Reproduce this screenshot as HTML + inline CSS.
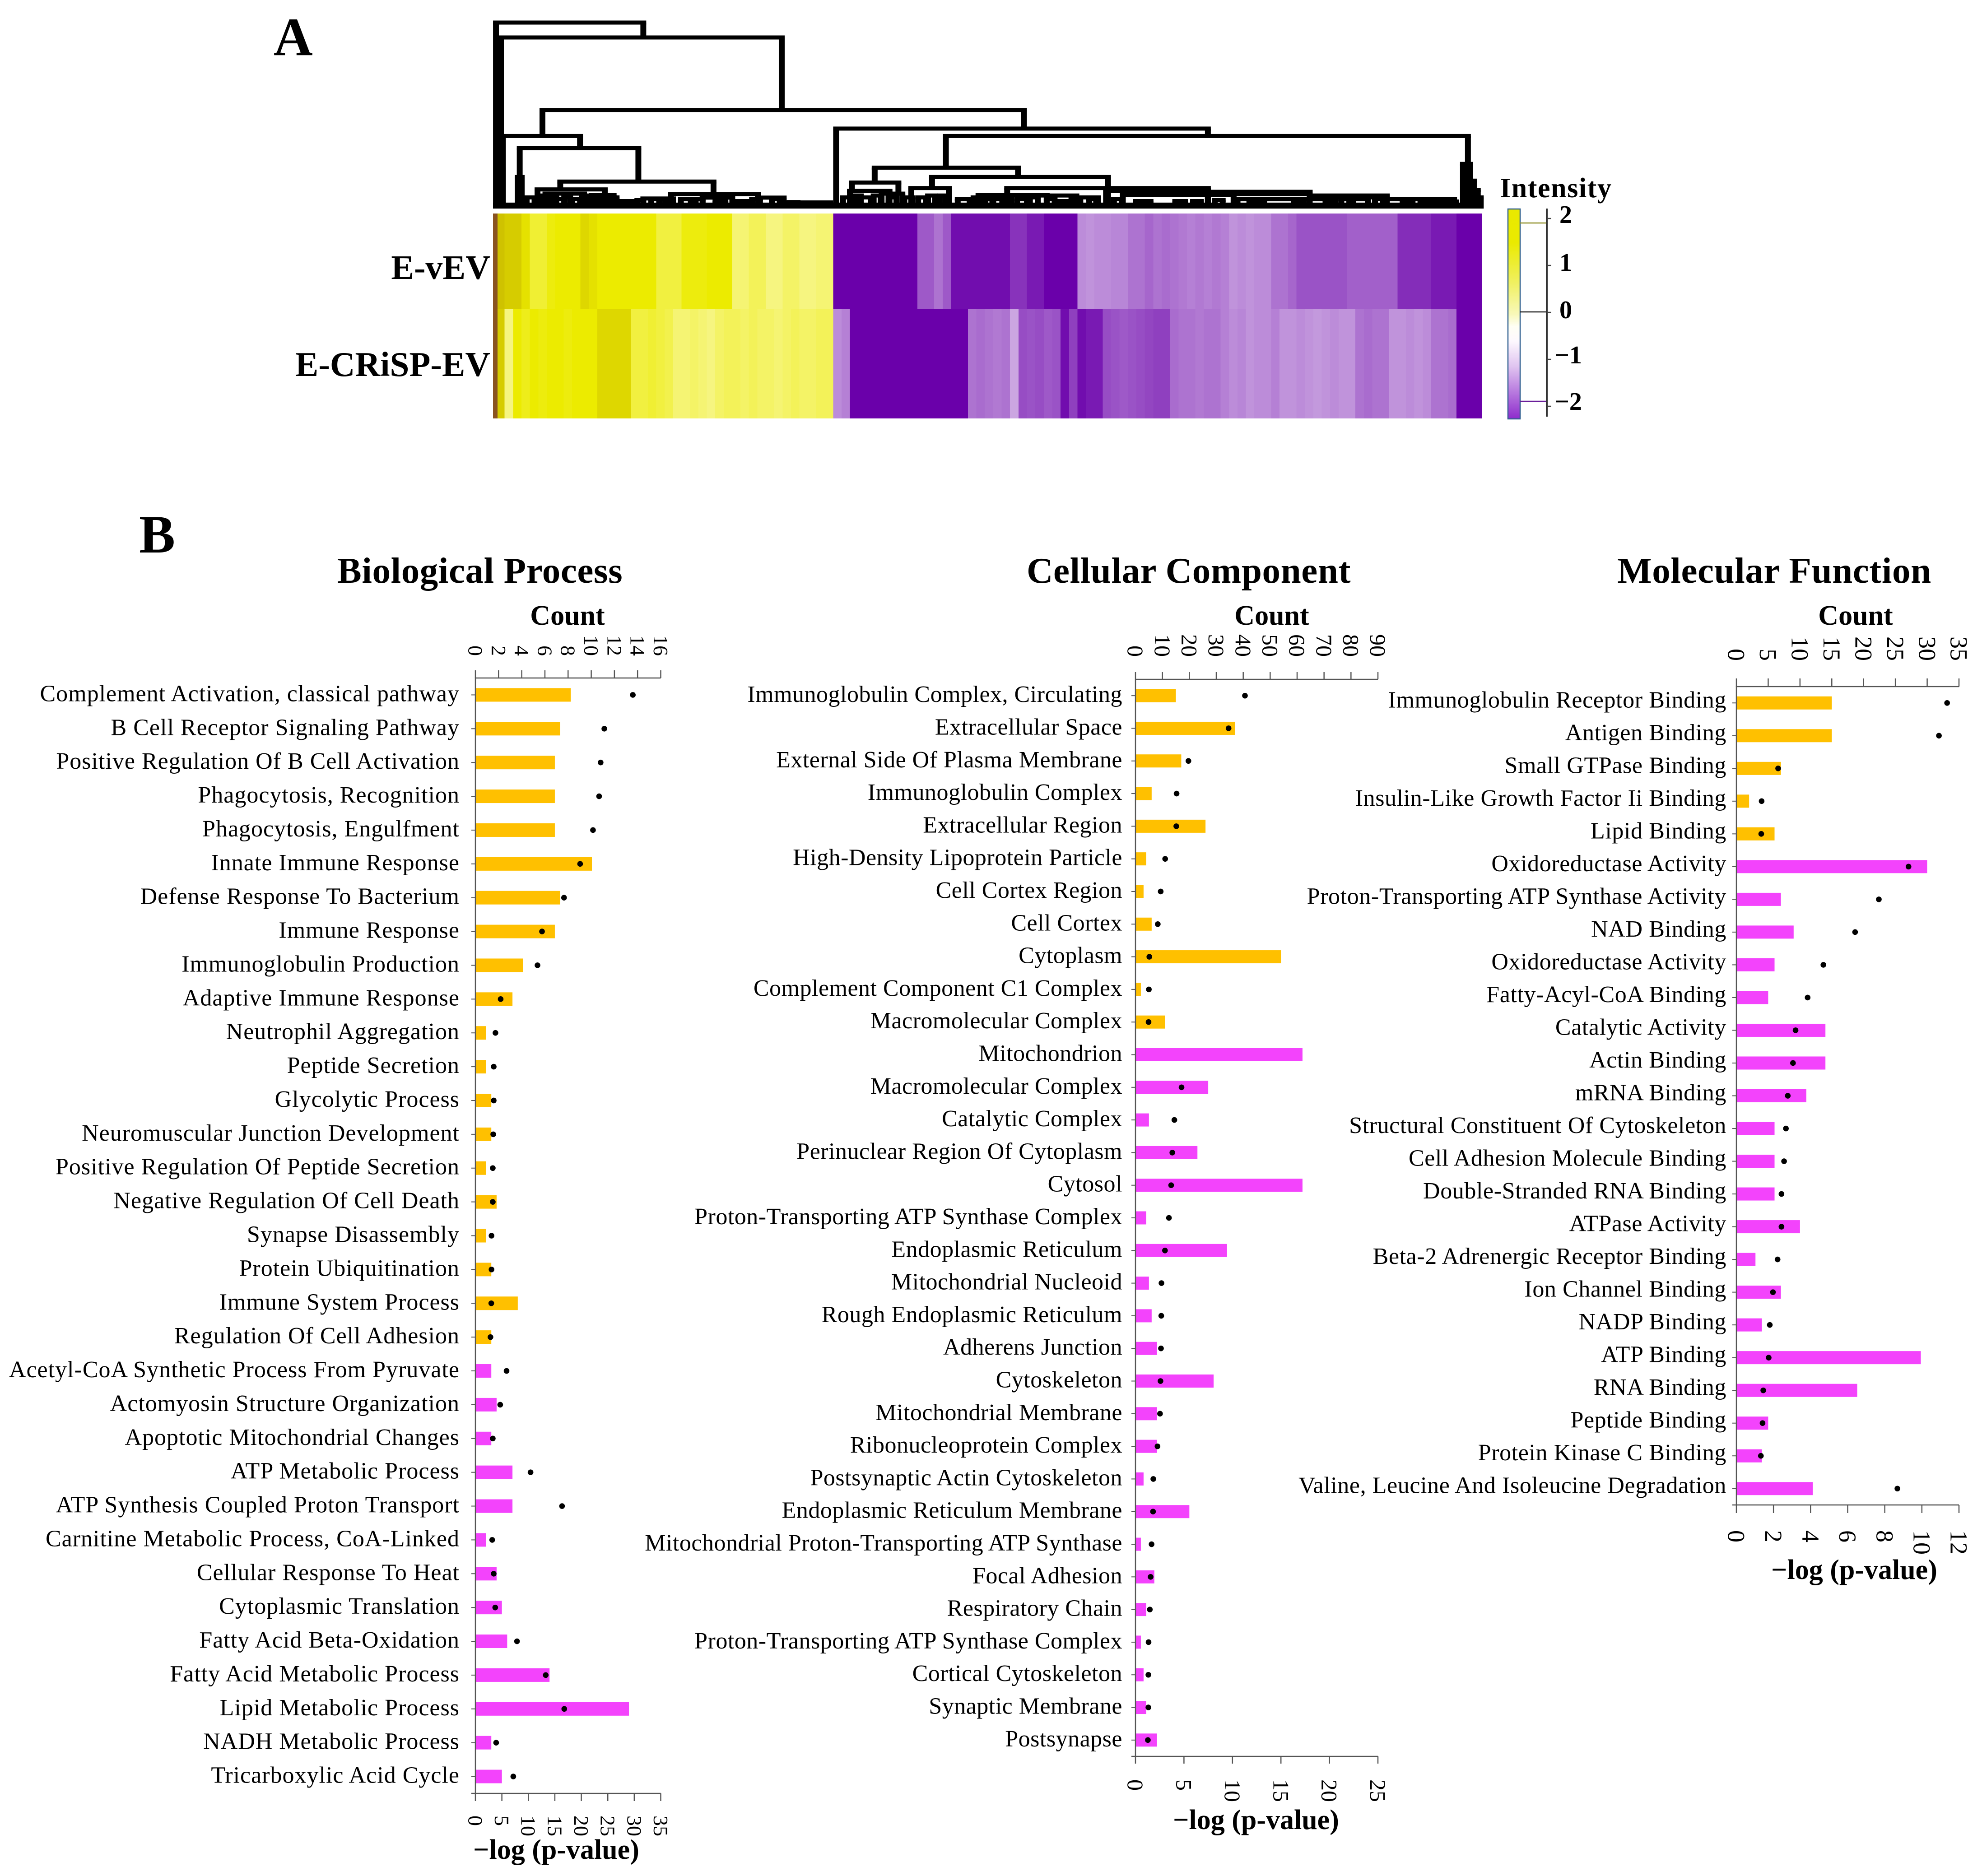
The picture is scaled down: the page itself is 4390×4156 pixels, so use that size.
<!DOCTYPE html>
<html lang="en">
<head>
<meta charset="utf-8">
<title>Proteomic heatmap and gene ontology enrichment</title>
<style>
html,body{margin:0;padding:0;background:#fff;}
svg{display:block;font-family:"Liberation Serif",serif;}
text{fill:#000;}
</style>
</head>
<body>
<svg id="figure" xmlns="http://www.w3.org/2000/svg" width="4390" height="4156" viewBox="0 0 4390 4156">
<defs>
<linearGradient id="cbar" x1="0" y1="0" x2="0" y2="1">
<stop offset="0" stop-color="#e9e900"/><stop offset="0.16" stop-color="#eaea00"/><stop offset="0.35" stop-color="#f0f060"/><stop offset="0.5" stop-color="#f8f8b8"/><stop offset="0.56" stop-color="#fffff4"/><stop offset="0.63" stop-color="#fdf8fe"/><stop offset="0.75" stop-color="#e0c4f0"/><stop offset="1" stop-color="#8e2ccc"/>
</linearGradient>
</defs>
<rect width="4390" height="4156" fill="#fff"/>
<text x="606" y="122" font-size="120" font-weight="700">A</text>
<text x="308" y="1224" font-size="120" font-weight="700">B</text>
<g id="dendrogram"></g>
<g id="heatmap" shape-rendering="crispEdges"></g>
<text x="1086" y="618" font-size="76" font-weight="700" text-anchor="end">E-vEV</text>
<text x="1086" y="833" font-size="77" font-weight="700" text-anchor="end">E-CRiSP-EV</text>
<g>
<text x="3322" y="437" font-size="62" font-weight="700" letter-spacing="1.6">Intensity</text>
<rect x="3340" y="463" width="27" height="465" fill="url(#cbar)" stroke="#2f5f8f" stroke-width="2.5"/>
<line x1="3426" y1="462" x2="3426" y2="923" stroke="#333" stroke-width="4"/>
<line x1="3367" y1="494" x2="3425" y2="494" stroke="#8f8f28" stroke-width="2.5"/>
<line x1="3367" y1="691" x2="3425" y2="691" stroke="#222" stroke-width="2.5"/>
<line x1="3367" y1="889" x2="3425" y2="889" stroke="#6a1f9a" stroke-width="2.5"/>
<line x1="3426" y1="484" x2="3436" y2="484" stroke="#444" stroke-width="2.5"/>
<line x1="3426" y1="588" x2="3436" y2="588" stroke="#444" stroke-width="2.5"/>
<line x1="3426" y1="692" x2="3436" y2="692" stroke="#444" stroke-width="2.5"/>
<line x1="3426" y1="796" x2="3436" y2="796" stroke="#444" stroke-width="2.5"/>
<line x1="3426" y1="900" x2="3436" y2="900" stroke="#444" stroke-width="2.5"/>
<text x="3454" y="494" font-size="56" font-weight="700">2</text>
<text x="3454" y="600" font-size="56" font-weight="700">1</text>
<text x="3454" y="705" font-size="56" font-weight="700">0</text>
<text x="3444" y="805" font-size="56" font-weight="700">−1</text>
<text x="3444" y="908" font-size="56" font-weight="700">−2</text>
</g>
<text x="1063" y="1291" font-size="81" font-weight="700" text-anchor="middle" letter-spacing="0.6">Biological Process</text>
<text x="2633" y="1291" font-size="81" font-weight="700" text-anchor="middle" letter-spacing="0.6">Cellular Component</text>
<text x="3930" y="1291" font-size="81" font-weight="700" text-anchor="middle" letter-spacing="0.6">Molecular Function</text>
<text x="1257" y="1384" font-size="62" font-weight="700" text-anchor="middle">Count</text>
<text x="2817" y="1384" font-size="62" font-weight="700" text-anchor="middle">Count</text>
<text x="4110" y="1384" font-size="62" font-weight="700" text-anchor="middle">Count</text>
<text x="1232" y="4118" font-size="62" font-weight="700" text-anchor="middle">−log (p-value)</text>
<text x="2782" y="4052" font-size="62" font-weight="700" text-anchor="middle">−log (p-value)</text>
<text x="4107" y="3498" font-size="62" font-weight="700" text-anchor="middle">−log (p-value)</text>
<g id="panels"></g>
</svg>
<script>
/* ---------- Heatmap data (z-scored intensity per protein cluster column) ---------- */
var evevValues = [2.4,2.3,2.3,2.1,1.6,1.6,1.9,2.0,2.0,2.0,2.2,2.1,
2.0,2.0,2.0,2.0,2.0,2.0,2.0,1.5,1.5,1.5,1.9,1.9,1.9,2.0,2.0,2.0,
1.1,1.1,1.3,1.3,1.0,1.0,1.2,1.2,1.0,1.0,1.1,1.1,
-2,-2,-2,-2,-2,-2,-2,-2,-2,-2,-1.3,-1.3,-1.1,-1.3,
-1.9,-1.9,-1.9,-1.9,-1.9,-1.9,-1.9,-1.6,-1.6,-1.8,-1.8,-2,-2,-2,-2,
-0.9,-0.85,-0.9,-0.9,-0.95,-0.95,-1.1,-1.1,-1.2,-1.1,-1.15,-1.1,
-1.05,-1.0,-1.05,-1.0,-1.05,-1.0,-0.85,-0.9,-0.85,-0.9,-0.9,-1.1,-1.1,-1.2,
-1.35,-1.35,-1.35,-1.35,-1.35,-1.35,-1.25,-1.25,-1.25,-1.25,-1.25,-1.25,
-1.65,-1.65,-1.65,-1.65,-1.8,-1.8,-1.8,-2,-2,-2];
var ecrispValues = [2.3,1.0,2.0,1.8,2.0,1.9,2.0,2.0,1.9,2.0,2.0,2.0,2.2,2.2,2.2,2.2,
1.5,1.5,1.6,1.5,1.4,1.1,1.1,1.2,1.1,1.0,1.2,1.3,1.3,
1.2,1.3,1.2,1.2,1.1,1.2,1.3,1.2,1.2,1.3,1.3,-0.9,-1.0,
-2,-2,-2,-2,-2,-2,-2,-2,-2,-2,-2,-2,-2,-2,
-1.1,-1.15,-1.1,-1.05,-1.1,-0.7,-1.4,-1.35,-1.4,-1.3,-1.35,
-1.9,-1.5,-1.9,-1.8,-1.8,-1.4,-1.35,-1.3,-1.35,-1.4,-1.45,-1.5,-1.5,
-1.15,-1.1,-1.1,-1.05,-1.1,-1.1,-1.0,-0.9,-0.95,-0.85,-0.9,-0.9,-1,
-0.85,-0.85,-0.9,-0.85,-0.8,-0.85,-0.9,-0.85,-0.85,-1.1,-1.15,-1.1,-1.1,
-0.85,-0.85,-0.9,-0.85,-0.9,-1.1,-1.1,-1.15,-2,-2,-2];

/* ---------- Dendrogram merges: left leaf, right leaf, height, left foot, right foot ---------- */
var dendroMerges = [
[3,152,100,0,92],[8,292,92,0,53],[50,537,53,39,43],[10,88,39,0,32.5],[27,147,32.5,0,14.5],
[68,223,14.5,10.5,8],[347,723,43,0,39],[458,986,39,22,0],[386,531,22,14,17],[444,622,17,11,11],
[363,410,14,9,9],[45,113,10.3,3,3],[53,92,8,3,3],[100,122,7.3,3,3],[152,182,5.4,3,3],
[180,268,7.8,3,3],[212,242,5.9,3,3],[268,294,5.9,3,3],[294,341,3.3,2,2],[361,401,9.6,3,3],
[423,461,11,3,3],[393,414,8,3,3],[491,560,7.4,3,3],[551,590,7,3,3],[520,620,11,3,3],
[594,612,6,3,3],[622,723,11,3,9],[622,723,9.6,3,3],[637,749,7.4,3,3],[723,826,9,3,7],[723,826,7.8,3,3],
[753,852,5,3,3],[826,904,7,3,5],[826,904,6,3,3],[904,972,5,3,3],[6,10,21,0,0],[25,29,17,0,0],[981,988,24,0,0],
[988,992,15,0,0],[992,996,10,0,0],[996,999,6,0,0],[60,72,5,2,2],[80,88,5,2,2],[108,114,5,2,2],
[130,142,4,2,2],[190,200,5,2,2],[225,235,4,2,2],[250,260,4,2,2],[372,382,6,2,2],
[430,438,6,2,2],[470,482,5,2,2],[505,515,5,2,2],[530,540,5,2,2],[572,582,4,2,2],
[650,665,4,2,2],[690,700,4,2,2],[765,780,4,2,2],[810,820,4,2,2],[870,885,5,2,2],
[920,930,4,2,2],[950,962,4,2,2],[34,42,6,2,2],[47,52,7,2,2],[57,64,7,2,2],[72,78,6,2,2],[90,97,7,2,2],
[103,109,7,2,2],[118,125,6,2,2],[146,152,4.5,2,2],[160,168,5,2,2],[174,180,5,2,2],[205,212,5,2,2],
[243,250,4,2,2],[262,270,5,2,2],[282,290,5,2,2],[300,308,3.5,2,2],[354,362,6,2,2],[366,372,7,2,2],
[385,392,7,2,2],[400,408,6,2,2],[416,424,6,2,2],[440,447,7,2,2],[452,458,7,2,2],[486,494,6,2,2],
[498,506,5,2,2],[516,524,6,2,2],[543,551,6,2,2],[560,568,5,2,2],[585,592,5,2,2],[603,610,5,2,2],
[628,636,5,2,2],[708,716,4,2,2],[730,738,4.5,2,2],[842,850,4,2,2],[858,866,5,2,2],[892,900,5,2,2],
[938,946,3.8,2,2],[966,974,3.8,2,2]];

/* ---------- Biological Process ---------- */
var bpCategories = ["Complement Activation, classical pathway","B Cell Receptor Signaling Pathway","Positive Regulation Of B Cell Activation","Phagocytosis, Recognition","Phagocytosis, Engulfment","Innate Immune Response","Defense Response To Bacterium","Immune Response","Immunoglobulin Production","Adaptive Immune Response","Neutrophil Aggregation","Peptide Secretion","Glycolytic Process","Neuromuscular Junction Development","Positive Regulation Of Peptide Secretion","Negative Regulation Of Cell Death","Synapse Disassembly","Protein Ubiquitination","Immune System Process","Regulation Of Cell Adhesion","Acetyl-CoA Synthetic Process From Pyruvate","Actomyosin Structure Organization","Apoptotic Mitochondrial Changes","ATP Metabolic Process","ATP Synthesis Coupled Proton Transport","Carnitine Metabolic Process, CoA-Linked","Cellular Response To Heat","Cytoplasmic Translation","Fatty Acid Beta-Oxidation","Fatty Acid Metabolic Process","Lipid Metabolic Process","NADH Metabolic Process","Tricarboxylic Acid Cycle"];
var bpBars = [18,16,15,15,15,22,16,15,9,7,2,2,3,3,2,4,2,3,8,3,3,4,3,7,7,2,4,5,6,14,29,3,5];
var bpDots = [13.59,11.13,10.81,10.68,10.15,9.04,7.65,5.75,5.36,2.18,1.73,1.58,1.58,1.54,1.50,1.50,1.39,1.39,1.37,1.30,2.69,2.14,1.50,4.76,7.48,1.45,1.58,1.71,3.59,6.07,7.67,1.79,3.27];
var bpTopTicks = [0,2,4,6,8,10,12,14,16];
var bpBottomTicks = [0,5,10,15,20,25,30,35];

/* ---------- Cellular Component ---------- */
var ccCategories = ["Immunoglobulin Complex, Circulating","Extracellular Space","External Side Of Plasma Membrane","Immunoglobulin Complex","Extracellular Region","High-Density Lipoprotein Particle","Cell Cortex Region","Cell Cortex","Cytoplasm","Complement Component C1 Complex","Macromolecular Complex","Mitochondrion","Macromolecular Complex","Catalytic Complex","Perinuclear Region Of Cytoplasm","Cytosol","Proton-Transporting ATP Synthase Complex","Endoplasmic Reticulum","Mitochondrial Nucleoid","Rough Endoplasmic Reticulum","Adherens Junction","Cytoskeleton","Mitochondrial Membrane","Ribonucleoprotein Complex","Postsynaptic Actin Cytoskeleton","Endoplasmic Reticulum Membrane","Mitochondrial Proton-Transporting ATP Synthase","Focal Adhesion","Respiratory Chain","Proton-Transporting ATP Synthase Complex","Cortical Cytoskeleton","Synaptic Membrane","Postsynapse"];
var ccBars = [15,37,17,6,26,4,3,6,54,2,11,62,27,5,23,62,4,34,5,6,8,29,8,8,3,20,2,7,4,2,3,4,8];
var ccDots = [11.29,9.6,5.46,4.24,4.21,3.06,2.60,2.30,1.43,1.38,1.35,null,4.75,4.01,3.80,3.68,3.45,3.04,2.68,2.66,2.63,2.58,2.53,2.27,1.84,1.81,1.66,1.56,1.48,1.35,1.33,1.33,1.28];
var ccTopTicks = [0,10,20,30,40,50,60,70,80,90];
var ccBottomTicks = [0,5,10,15,20,25];

/* ---------- Molecular Function ---------- */
var mfCategories = ["Immunoglobulin Receptor Binding","Antigen Binding","Small GTPase Binding","Insulin-Like Growth Factor Ii Binding","Lipid Binding","Oxidoreductase Activity","Proton-Transporting ATP Synthase Activity","NAD Binding","Oxidoreductase Activity","Fatty-Acyl-CoA Binding","Catalytic Activity","Actin Binding","mRNA Binding","Structural Constituent Of Cytoskeleton","Cell Adhesion Molecule Binding","Double-Stranded RNA Binding","ATPase Activity","Beta-2 Adrenergic Receptor Binding","Ion Channel Binding","NADP Binding","ATP Binding","RNA Binding","Peptide Binding","Protein Kinase C Binding","Valine, Leucine And Isoleucine Degradation"];
var mfBars = [15,15,7,2,6,30,7,9,6,5,14,14,11,6,6,6,10,3,7,4,29,19,5,4,12];
var mfDots = [11.36,10.92,2.25,1.36,1.34,9.28,7.68,6.40,4.69,3.84,3.19,3.05,2.77,2.67,2.57,2.43,2.43,2.22,1.97,1.80,1.74,1.45,1.41,1.32,8.68];
var mfTopTicks = [0,5,10,15,20,25,30,35];
var mfBottomTicks = [0,2,4,6,8,10,12];

var NS = "http://www.w3.org/2000/svg";
function make(tag, parent) {
  var node = document.createElementNS(NS, tag);
  parent.appendChild(node);
  return node;
}
function hexMix(a, b, t) {
  var out = [];
  for (var c = 0; c < 3; c++) {
    out.push(Math.round(a[c] + (b[c] - a[c]) * t));
  }
  return "rgb(" + out.join(",") + ")";
}
function heatColor(v) {
  var purple = [106,0,170], white = [255,255,255], yellow = [236,235,0], olive = [200,184,0], brown = [138,80,32];
  if (v < 0) return hexMix(white, purple, Math.min(1, -v / 2));
  if (v <= 2) return hexMix(white, yellow, v / 2);
  if (v <= 2.5) return hexMix(yellow, olive, (v - 2) / 0.5);
  return hexMix(olive, brown, Math.min(1, (v - 2.5) / 0.5));
}

/* Heatmap */
(function () {
  var host = document.getElementById("heatmap");
  var left = 1099, right = 3282;
  var rows = [
    { name: "heatmap-row-e-vev", values: evevValues, top: 473, bottom: 685 },
    { name: "heatmap-row-e-crisp-ev", values: ecrispValues, top: 685, bottom: 927 }
  ];
  rows.forEach(function (row) {
    var g = make("g", host);
    
    
    var w = (right - left) / row.values.length;
    row.values.forEach(function (v, i) {
      var r = make("rect", g);
      
      
      r.setAttribute("x", left + i * w);
      r.setAttribute("y", row.top);
      r.setAttribute("width", w + 0.6);
      r.setAttribute("height", row.bottom - row.top);
      r.setAttribute("fill", heatColor(v));
    });
  });
  var edge = make("rect", host);
  
  
  edge.setAttribute("x", 1092);
  edge.setAttribute("y", 473);
  edge.setAttribute("width", 10);
  edge.setAttribute("height", 454);
  edge.setAttribute("fill", "#8a5420");
})();

/* Dendrogram */
(function () {
  var host = document.getElementById("dendrogram");
  function lx(l) { return 1092 + l * 2.19; }
  function hy(h) { return 462 - h * 4.12; }
  var base = make("rect", host);
  
  
  base.setAttribute("x", lx(0));
  base.setAttribute("y", hy(3.2));
  base.setAttribute("width", lx(1000) - lx(0));
  base.setAttribute("height", hy(0) - hy(3.2));
  base.setAttribute("fill", "#000");
  dendroMerges.forEach(function (m) {
    var legs = make("path", host);
    
    
    legs.setAttribute("d", "M" + lx(m[0]) + " " + hy(m[3]) + "V" + hy(m[2]) + "M" + lx(m[1]) + " " + hy(m[2]) + "V" + hy(m[4]));
    legs.setAttribute("fill", "none");
    legs.setAttribute("stroke", "#000");
    legs.setAttribute("stroke-width", 13);
    var bar = make("path", host);
    
    
    bar.setAttribute("d", "M" + (lx(m[0]) - 6.5) + " " + hy(m[2]) + "H" + (lx(m[1]) + 6.5));
    bar.setAttribute("fill", "none");
    bar.setAttribute("stroke", "#000");
    bar.setAttribute("stroke-width", 9);
  });
})();

/* Bar + dot panels */
function drawPanel(cfg) {
  var host = document.getElementById("panels");
  var g = make("g", host);
  
  
  var topMax = cfg.topTicks[cfg.topTicks.length - 1];
  var botMax = cfg.bottomTicks[cfg.bottomTicks.length - 1];
  function xTop(v) { return cfg.x0 + v / topMax * (cfg.x1 - cfg.x0); }
  function xBot(v) { return cfg.x0 + v / botMax * (cfg.x1 - cfg.x0); }
  var barX = cfg.barAxis === "bottom" ? xBot : xTop;
  var dotX = cfg.barAxis === "bottom" ? xTop : xBot;
  var step = (cfg.yBottom - cfg.yTop) / cfg.categories.length;
  function rowY(i) { return cfg.yTop + step * (i + 0.5); }

  cfg.categories.forEach(function (label, i) {
    var cy = rowY(i);
    var bar = make("rect", g);
    
    
    bar.setAttribute("x", cfg.x0);
    bar.setAttribute("y", cy - cfg.barH / 2);
    bar.setAttribute("width", barX(cfg.bars[i]) - cfg.x0);
    bar.setAttribute("height", cfg.barH);
    bar.setAttribute("fill", i < cfg.upCount ? "#ffc000" : "#f343fc");

    var tick = make("line", g);
    
    
    tick.setAttribute("x1", cfg.x0 - 9);
    tick.setAttribute("x2", cfg.x0);
    tick.setAttribute("y1", cy);
    tick.setAttribute("y2", cy);
    tick.setAttribute("stroke", "#555");
    tick.setAttribute("stroke-width", 2);

    var t = make("text", g);
    
    
    t.setAttribute("x", cfg.labelX);
    t.setAttribute("y", cy + cfg.labelDrop);
    t.setAttribute("font-size", 52);
    t.setAttribute("text-anchor", "end");
    t.setAttribute("letter-spacing", cfg.spacing);
    t.textContent = label;
  });

  cfg.dots.forEach(function (v, i) {
    if (v === null) return;
    var dot = make("circle", g);
    
    
    dot.setAttribute("cx", dotX(v));
    dot.setAttribute("cy", rowY(i));
    dot.setAttribute("r", 6.3);
    dot.setAttribute("fill", "#000");
  });

  function axisLine(name, x1, y1, x2, y2) {
    var l = make("line", g);
    
    
    l.setAttribute("x1", x1);
    l.setAttribute("y1", y1);
    l.setAttribute("x2", x2);
    l.setAttribute("y2", y2);
    l.setAttribute("stroke", "#555");
    l.setAttribute("stroke-width", 2.5);
  }
  axisLine("category-axis-line", cfg.x0, cfg.yTop - 1, cfg.x0, cfg.yBottom + 1);
  axisLine("top-axis-line", cfg.x0, cfg.yTop, cfg.x1, cfg.yTop);
  axisLine("bottom-axis-line", cfg.x0 - 9, cfg.yBottom, cfg.x1, cfg.yBottom);

  function tickLabel(name, v, x, y, anchor) {
    var t = make("text", g);
    
    
    t.setAttribute("font-size", cfg.tickFont);
    t.setAttribute("text-anchor", anchor);
    t.setAttribute("transform", "translate(" + (x - 0.338 * cfg.tickFont) + " " + y + ") rotate(90)");
    t.textContent = v;
  }
  cfg.topTicks.forEach(function (v) {
    axisLine("top-axis-tick", xTop(v), cfg.yTop, xTop(v), cfg.yTop - cfg.tickLen);
    tickLabel("top-axis-tick-label", v, xTop(v), cfg.topLabelEnd, "end");
  });
  cfg.bottomTicks.forEach(function (v) {
    axisLine("bottom-axis-tick", xBot(v), cfg.yBottom, xBot(v), cfg.yBottom + cfg.tickLen);
    tickLabel("bottom-axis-tick-label", v, xBot(v), cfg.bottomLabelStart, "start");
  });
}

drawPanel({ name: "biological-process-chart", categories: bpCategories, bars: bpBars, dots: bpDots, topTicks: bpTopTicks, bottomTicks: bpBottomTicks, barAxis: "bottom", upCount: 20, x0: 1053, x1: 1463.5, yTop: 1502, yBottom: 3973, barH: 30, labelX: 1018, labelDrop: 14, spacing: 1, tickFont: 46, tickLen: 17, topLabelEnd: 1453, bottomLabelStart: 4022 });
drawPanel({ name: "cellular-component-chart", categories: ccCategories, bars: ccBars, dots: ccDots, topTicks: ccTopTicks, bottomTicks: ccBottomTicks, barAxis: "top", upCount: 11, x0: 2515, x1: 3052, yTop: 1505, yBottom: 3891, barH: 29, labelX: 2486, labelDrop: 14, spacing: 0.5, tickFont: 50, tickLen: 16, topLabelEnd: 1455, bottomLabelStart: 3942 });
drawPanel({ name: "molecular-function-chart", categories: mfCategories, bars: mfBars, dots: mfDots, topTicks: mfTopTicks, bottomTicks: mfBottomTicks, barAxis: "top", upCount: 5, x0: 3846, x1: 4339, yTop: 1521, yBottom: 3334, barH: 29, labelX: 3824, labelDrop: 10, spacing: 0.6, tickFont: 54, tickLen: 18, topLabelEnd: 1464, bottomLabelStart: 3390 });
</script>
</body>
</html>
